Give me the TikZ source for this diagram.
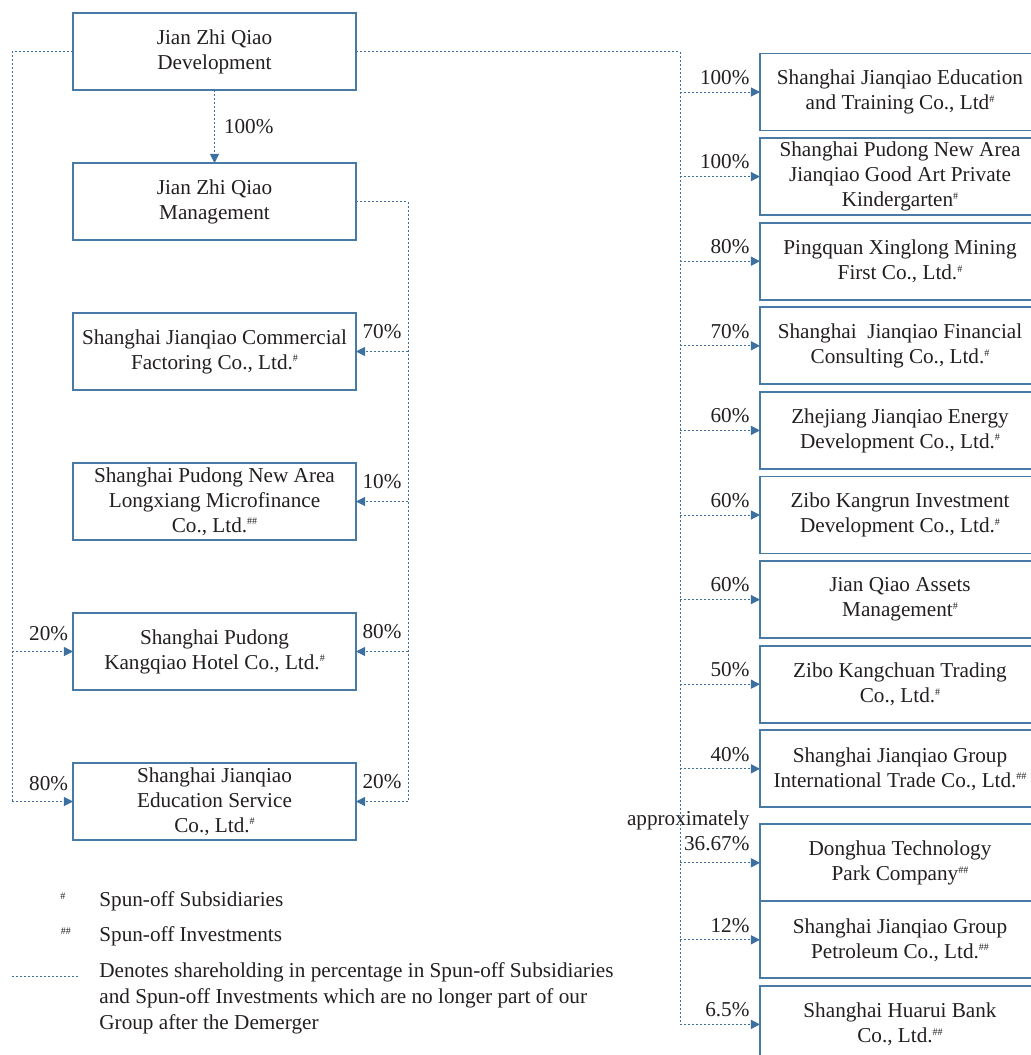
\documentclass[tikz,border=0pt]{standalone}
\usepackage{fontspec}
\setmainfont{Liberation Serif}
\usepackage{xcolor}
\usetikzlibrary{positioning, arrows.meta}
\definecolor{boxblue}{RGB}{72,122,166}
\definecolor{lineblue}{RGB}{60,112,160}
\definecolor{inkgray}{RGB}{35,31,32}
\newcommand{\spunsub}{\raisebox{0.75ex}{\fontsize{5}{5}\selectfont\#}}
\newcommand{\spuninv}{\raisebox{0.75ex}{\fontsize{5}{5}\selectfont\#\#}}

\begin{document}
\begin{tikzpicture}[x=0.5pt, y=-0.5pt,
  every node/.style={font=\fontsize{10.6}{12.5}\selectfont, text=inkgray},
  entity/.style={draw=boxblue, line width=0.9pt, minimum width=141.5pt, minimum height=38.5pt, inner sep=0pt, outer sep=0pt, align=center},
  spunbox/.style={entity, minimum width=140pt},
  share/.style={draw=lineblue, line width=0.5pt, dash pattern=on 1pt off 1pt},
  stake/.style={share, -{Triangle[length=4.6pt, width=4.6pt]}},
  lpct/.style={midway, above, inner sep=0pt, yshift=6pt},
  rpct/.style={pos=0.875, anchor=south east, inner sep=0pt, yshift=3.5pt}]
\clip (0,0) rectangle (1031,1055);
% left group
\node[entity] (dev) at (214.5,51.5) {Jian Zhi Qiao\\Development};
\node[entity, below=36.5pt of dev] (mgmt) {Jian Zhi Qiao\\Management};
\node[entity, below=36.5pt of mgmt] (factoring) {Shanghai Jianqiao Commercial\\Factoring Co., Ltd.\spunsub};
\node[entity, below=36.5pt of factoring] (microfin) {Shanghai Pudong New Area\\Longxiang Microfinance\\Co., Ltd.\spuninv};
\node[entity, below=36.5pt of microfin] (hotel) {Shanghai Pudong\\Kangqiao Hotel Co., Ltd.\spunsub};
\node[entity, below=36.5pt of hotel] (eduserv) {Shanghai Jianqiao\\Education Service\\Co., Ltd.\spunsub};
% right group
\node[spunbox] (edutrain) at (900,92) {Shanghai Jianqiao Education\\and Training Co., Ltd\spunsub};
\node[spunbox, below=3.8pt of edutrain] (kinder) {Shanghai Pudong New Area\\Jianqiao Good Art Private\\Kindergarten\spunsub};
\node[spunbox, below=3.8pt of kinder] (mining) {Pingquan Xinglong Mining\\First Co., Ltd.\spunsub};
\node[spunbox, below=3.8pt of mining] (financial) {Shanghai\ \ Jianqiao Financial\\Consulting Co., Ltd.\spunsub};
\node[spunbox, below=3.8pt of financial] (energy) {Zhejiang Jianqiao Energy\\Development Co., Ltd.\spunsub};
\node[spunbox, below=3.8pt of energy] (kangrun) {Zibo Kangrun Investment\\Development Co., Ltd.\spunsub};
\node[spunbox, below=3.8pt of kangrun] (assets) {Jian Qiao Assets\\Management\spunsub};
\node[spunbox, below=3.8pt of assets] (kangchuan) {Zibo Kangchuan Trading\\Co., Ltd.\spunsub};
\node[spunbox, below=3.8pt of kangchuan] (intltrade) {Shanghai Jianqiao Group\\International Trade Co., Ltd.\spuninv};
\node[spunbox, below=8.5pt of intltrade] (donghua) {Donghua Technology\\Park Company\spuninv};
\node[spunbox, below=0pt of donghua] (petroleum) {Shanghai Jianqiao Group\\Petroleum Co., Ltd.\spuninv};
\node[spunbox, below=3.8pt of petroleum] (huarui) {Shanghai Huarui Bank\\Co., Ltd.\spuninv};
% trunks
\coordinate (ltrunk) at (12,0);
\coordinate (mtrunk) at (408,0);
\coordinate (rtrunk) at (680,0);
\draw[stake] (dev) -- node[right, inner sep=0pt, xshift=4.5pt] {100\%} (mgmt);
\draw[share] (dev.west) -- (ltrunk |- dev.west) -- (ltrunk |- eduserv.west);
\draw[share] (mgmt.east) -- (mtrunk |- mgmt.east) -- (mtrunk |- eduserv.east);
\draw[share] (dev.east) -- (rtrunk |- dev.east) -- (rtrunk |- huarui.west);
\draw[stake] (ltrunk |- hotel.west) -- node[lpct, pos=0.6, yshift=-1pt] {20\%} (hotel.west);
\draw[stake] (ltrunk |- eduserv.west) -- node[lpct, pos=0.6, yshift=-1pt] {80\%} (eduserv.west);
\foreach \n/\p in {factoring/70, microfin/10, hotel/80, eduserv/20}
  \draw[stake] (mtrunk |- \n.east) -- node[lpct] {\p\%} (\n.east);
\foreach \n/\p in {edutrain/100, kinder/100, mining/80, financial/70, energy/60, kangrun/60, assets/60, kangchuan/50, intltrade/40, petroleum/12, huarui/6.5}
  \draw[stake] (rtrunk |- \n.west) -- node[rpct] {\p\%} (\n.west);
\draw[stake] (rtrunk |- donghua.west) -- node[rpct, align=right, yshift=2.5pt] {approximately\\36.67\%} (donghua.west);
% key
\node[inner sep=0pt, font=\fontsize{5}{5}\selectfont] (submark) at (63,896) {\#};
\node[anchor=west, inner sep=0pt] (subkey) at (99,901) {Spun-off Subsidiaries};
\node[inner sep=0pt, font=\fontsize{5}{5}\selectfont] (invmark) at (66,931) {\#\#};
\node[anchor=west, inner sep=0pt] (invkey) at (99,936) {Spun-off Investments};
\coordinate (keyl) at (12,976);
\coordinate (keyr) at (80,976);
\draw[share] (keyl) -- (keyr);
\node[anchor=north west, inner sep=0pt, align=left, font=\fontsize{10.6}{13}\selectfont] (sharekey) at (99,962) {Denotes shareholding in percentage in Spun-off Subsidiaries\\and Spun-off Investments which are no longer part of our\\Group after the Demerger};
\end{tikzpicture}
\end{document}
